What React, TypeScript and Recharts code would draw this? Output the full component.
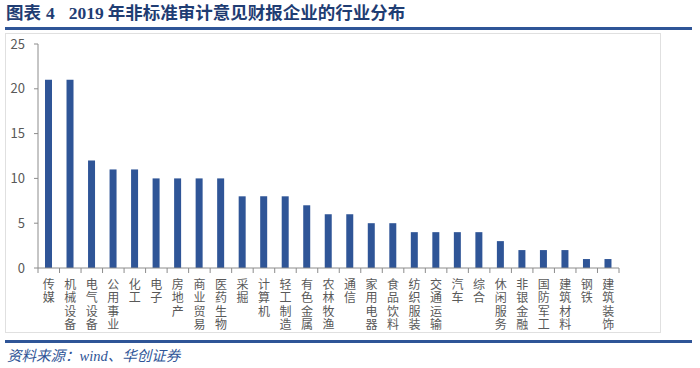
import React from "react";
import { BarChart, Bar, XAxis, YAxis } from "recharts";

const industries = [
  "传媒", "机械设备", "电气设备", "公用事业", "化工", "电子", "房地产", "商业贸易", "医药生物",
  "采掘", "计算机", "轻工制造", "有色金属", "农林牧渔", "通信", "家用电器", "食品饮料", "纺织服装",
  "交通运输", "汽车", "综合", "休闲服务", "非银金融", "国防军工", "建筑材料", "钢铁", "建筑装饰",
];
const counts = [21, 21, 12, 11, 11, 10, 10, 10, 10, 8, 8, 8, 7, 6, 6, 5, 5, 4, 4, 4, 4, 3, 2, 2, 2, 1, 1];
const yTicks = [0, 5, 10, 15, 20, 25];

const data = industries.map((name, i) => ({ name, value: counts[i] }));

const AXIS_COLOR = "#8c8c8c";
const TEXT_COLOR = "#595959";
const CJK = "'Noto Sans CJK SC', 'Noto Sans', sans-serif";
const SERIF = "'Liberation Serif', 'Noto Sans CJK SC', serif";

const CategoryTick = (props: any) => {
  const { x, y, payload, index, visibleTicksCount } = props;
  const off = payload && typeof payload.offset === "number" && payload.offset > 0 ? payload.offset : 10.76;
  const chars = String(payload.value).split("");
  const isLast = index === (visibleTicksCount ?? industries.length) - 1;
  return (
    <g>
      <line x1={x - off} y1={y} x2={x - off} y2={y + 5} stroke={AXIS_COLOR} strokeWidth={1} />
      {isLast && <line x1={x + off} y1={y} x2={x + off} y2={y + 5} stroke={AXIS_COLOR} strokeWidth={1} />}
      <text x={x} y={y} fill={TEXT_COLOR} fontSize={12} fontFamily={CJK} textAnchor="middle">
        {chars.map((c, i) => (
          <tspan key={i} x={x} dy={i === 0 ? 21 : 13.3}>
            {c}
          </tspan>
        ))}
      </text>
    </g>
  );
};

export default function App() {
  return (
    <div style={{ position: "absolute", left: 0, top: 0, width: 700, height: 368, background: "#fff", overflow: "hidden" }}>
      <div
        style={{
          position: "absolute", left: 6, top: 0, height: 26, lineHeight: "26px", whiteSpace: "pre",
          fontFamily: SERIF, fontWeight: "bold", fontSize: 17.5, color: "#1f3d73",
        }}
      >
        <span>图表</span>
        <span style={{ marginLeft: 5 }}>4</span>
        <span style={{ marginLeft: 14 }}>2019</span>
        <span style={{ marginLeft: 4 }}>年非标准审计意见财报企业的行业分布</span>
      </div>
      <div style={{ position: "absolute", left: 5, top: 27, width: 687, height: 3, background: "#2f5597" }} />
      <div style={{ position: "absolute", left: 5, top: 33, width: 656, height: 300, boxSizing: "border-box", border: "1.5px solid #e0e0e0" }} />
      <div style={{ position: "absolute", left: 5, top: 33 }}>
        <BarChart width={656} height={300} data={data} margin={{ top: 11, right: 42, left: 0, bottom: 0 }} barCategoryGap={0}>
          <YAxis
            width={33}
            domain={[0, 25]}
            ticks={yTicks}
            interval={0}
            axisLine={{ stroke: AXIS_COLOR }}
            tickLine={{ stroke: AXIS_COLOR }}
            tickSize={4}
            tickMargin={9}
            tick={{ fill: TEXT_COLOR, fontSize: 13, fontFamily: CJK }}
          />
          <XAxis
            dataKey="name"
            height={65}
            interval={0}
            axisLine={{ stroke: AXIS_COLOR }}
            tickLine={false}
            tickSize={0}
            tickMargin={0}
            tick={<CategoryTick />}
          />
          <Bar dataKey="value" fill="#2f5597" barSize={7} isAnimationActive={false} />
        </BarChart>
      </div>
      <div style={{ position: "absolute", left: 5, top: 340, width: 687, height: 3, background: "#2f5597" }} />
      <div
        style={{
          position: "absolute", left: 7, top: 346, height: 20, lineHeight: "20px", whiteSpace: "pre",
          fontFamily: SERIF, fontStyle: "italic", fontSize: 14.5, color: "#2f5597",
        }}
      >
        {"资料来源：wind、华创证券"}
      </div>
    </div>
  );
}
